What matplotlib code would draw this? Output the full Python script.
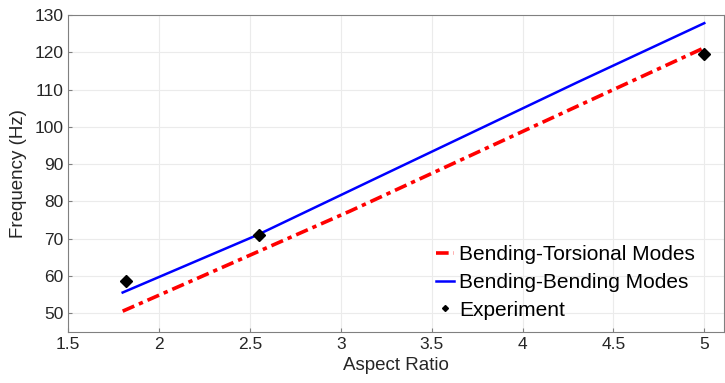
import matplotlib
matplotlib.use('Agg')
from matplotlib import pyplot as plt

# model curves (aspect ratio vs frequency)
ar_bt = [1.8, 2.225, 3.05, 4.3, 5.0]
bending_torsional = [50.6, 59.7, 77.4, 105.5, 121.2]
ar_bb = [1.8, 2.54, 3.21, 4.3, 5.0]
bending_bending = [55.6, 71.0, 86.6, 111.9, 127.8]

# experiment points
ar_exp = [1.82, 2.55, 5.0]
freq_exp = [58.7, 71.0, 119.4]

plt.rcParams['font.family'] = ['Liberation Sans', 'DejaVu Sans']

fig = plt.figure(figsize=(7.25, 3.83), dpi=100)
ax = fig.add_axes([0.094, 0.133, 0.905, 0.828])

ax.plot(ar_bt, bending_torsional, color='#ff0000', ls=(0, (3.5, 1.4, 1.2, 1.4)), lw=2.6,
        label='Bending-Torsional Modes')
ax.plot(ar_bb, bending_bending, color='#0000ff', lw=1.8, label='Bending-Bending Modes')
ax.plot(ar_exp, freq_exp, ls='none', marker='D', ms=6.5, color='black', label='Experiment')

ax.set_xlim(1.5, 5.11)
ax.set_ylim(45, 130)
ax.set_xticks([1.5, 2, 2.5, 3, 3.5, 4, 4.5, 5])
ax.set_xticklabels(['1.5', '2', '2.5', '3', '3.5', '4', '4.5', '5'])
ax.set_yticks(range(50, 131, 10))

ax.grid(True, color='#ebebeb', lw=0.8)
ax.set_axisbelow(True)
for s in ax.spines.values():
    s.set_color('#808080')
ax.tick_params(labelsize=12.5, length=3, direction='in', width=0.8,
               colors='#808080', labelcolor='#262626')

ax.set_xlabel('Aspect Ratio', fontsize=13.5, color='#262626', labelpad=4)
ax.set_ylabel('Frequency (Hz)', fontsize=13.5, color='#262626', labelpad=5)

leg = ax.legend(loc='lower right', frameon=False, fontsize=15, handlelength=0.9,
                handletextpad=0.25, labelspacing=0.42, borderaxespad=0.2,
                bbox_to_anchor=(0.975, 0.0))
leg.legend_handles[2].set_markersize(3)

fig.savefig('out.png', dpi=100)
